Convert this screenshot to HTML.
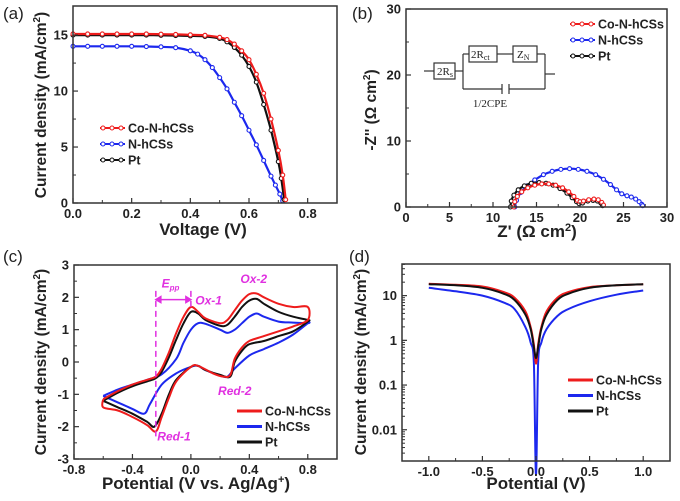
<!DOCTYPE html>
<html><head><meta charset="utf-8">
<style>
html,body{margin:0;padding:0;background:#fff;}
svg{display:block;font-family:"Liberation Sans",Arial,sans-serif;}
.tick{font-size:13px;font-weight:bold;fill:#222;}
.ttl{font-size:15.5px;font-weight:bold;fill:#222;}
.xt{font-size:17px;}
.pl{font-size:17px;fill:#222;}
.leg{font-size:12.5px;font-weight:bold;fill:#222;}
.mag{font-size:12px;font-weight:bold;font-style:italic;fill:#e030e0;}
</style></head>
<body>
<svg id="fig" width="680" height="501" viewBox="0 0 680 501" xmlns="http://www.w3.org/2000/svg">
<g id="gA"></g>
<g id="gB"></g>
<g id="gC"></g>
<g id="gD"></g>
</svg>
<script>
// ---------- Panel (a) data ----------
const aV_co=[0,0.05,0.1,0.15,0.2,0.25,0.3,0.35,0.4,0.45,0.5,0.525,0.55,0.575,0.6,0.625,0.65,0.675,0.7,0.715,0.725];
const aJ_co=[15.1,15.1,15.1,15.1,15.1,15.1,15.08,15.06,15.03,14.98,14.8,14.6,14.2,13.6,12.8,11.5,9.8,7.5,4.7,2.5,0.3];
const aV_pt=[0,0.05,0.1,0.15,0.2,0.25,0.3,0.35,0.4,0.45,0.5,0.525,0.55,0.575,0.6,0.625,0.65,0.675,0.7,0.71,0.72];
const aJ_pt=[15.0,15.0,15.0,15.0,15.0,15.0,14.98,14.96,14.93,14.88,14.7,14.4,13.9,13.2,12.2,10.8,8.8,6.5,3.7,2.2,0.3];
const aV_n=[0,0.05,0.1,0.15,0.2,0.25,0.3,0.35,0.4,0.425,0.45,0.475,0.5,0.525,0.55,0.575,0.6,0.625,0.65,0.675,0.69,0.705,0.715];
const aJ_n=[14.0,14.0,14.0,14.0,14.0,13.98,13.95,13.88,13.6,13.3,12.8,12.1,11.2,10.2,9.0,7.8,6.5,5.2,3.8,2.4,1.6,0.8,0.2];
const aXTicks=[0,0.2,0.4,0.6,0.8];
const aYTicks=[0,5,10,15];
// ---------- Panel (b) data ----------
const bX_co=[12.4,12.5,12.8,13.3,14,14.8,15.6,16.4,17.2,18,18.7,19.3,19.7,20,20.4,21,21.6,22.1,22.5,22.7];
const bY_co=[0,0.8,1.6,2.3,2.9,3.3,3.5,3.5,3.3,2.9,2.3,1.6,1.0,0.8,0.9,1.1,1.2,1.1,0.7,0.3];
const bX_pt=[12.0,12.1,12.4,12.9,13.6,14.4,15.3,16.1,16.9,17.7,18.5,19.1,19.6,19.9,20.3,20.9,21.5,22,22.4,22.6];
const bY_pt=[0,0.9,1.8,2.6,3.2,3.6,3.7,3.6,3.3,2.8,2.1,1.4,0.8,0.5,0.6,0.9,1.0,0.9,0.6,0.2];
const bX_n=[12.5,12.7,13.2,13.9,14.8,15.8,16.8,17.8,18.8,19.8,20.8,21.8,22.7,23.5,24.2,24.8,25.4,25.9,26.4,26.8,27.1,27.2];
const bY_n=[0,1.0,2.2,3.2,4.1,4.9,5.4,5.7,5.8,5.7,5.4,4.9,4.2,3.4,2.6,2.0,1.7,1.5,1.2,0.8,0.4,0.2];
const bXTicks=[0,5,10,15,20,25,30];
const bYTicks=[0,10,20,30];
// ---------- Panel (c) data ----------
const cE_co=[-0.6,-0.5,-0.4,-0.3,-0.24,-0.2,-0.15,-0.1,-0.05,0,0.05,0.1,0.2,0.25,0.3,0.35,0.4,0.45,0.5,0.6,0.7,0.8,0.8,0.7,0.6,0.5,0.4,0.35,0.3,0.27,0.22,0.15,0.05,0,-0.1,-0.15,-0.2,-0.24,-0.3,-0.4,-0.5,-0.6,-0.6];
const cI_co=[-1.15,-0.9,-0.7,-0.55,-0.45,-0.2,0.3,0.9,1.4,1.7,1.55,1.35,1.2,1.3,1.6,1.9,2.1,2.12,2.0,1.8,1.7,1.7,1.3,1.1,0.95,0.8,0.65,0.45,0.1,-0.4,-0.45,-0.35,-0.12,-0.15,-0.6,-1.1,-1.7,-2.15,-1.95,-1.7,-1.5,-1.4,-1.15];
const cE_pt=[-0.6,-0.5,-0.4,-0.3,-0.24,-0.2,-0.15,-0.1,-0.05,0,0.05,0.1,0.2,0.25,0.3,0.35,0.4,0.45,0.5,0.6,0.7,0.8,0.8,0.7,0.6,0.5,0.4,0.35,0.3,0.27,0.2,0.1,0.05,0,-0.1,-0.15,-0.2,-0.25,-0.3,-0.4,-0.5,-0.6];
const cI_pt=[-1.2,-0.95,-0.75,-0.6,-0.5,-0.3,0.15,0.7,1.2,1.55,1.5,1.3,1.12,1.15,1.4,1.7,1.9,1.95,1.8,1.55,1.4,1.3,1.25,0.95,0.8,0.65,0.55,0.35,0,-0.45,-0.4,-0.25,-0.12,-0.15,-0.55,-1.0,-1.6,-2.0,-1.85,-1.6,-1.4,-1.2];
const cE_n=[-0.6,-0.5,-0.4,-0.3,-0.2,-0.1,-0.05,0,0.05,0.1,0.2,0.25,0.3,0.35,0.4,0.45,0.5,0.6,0.7,0.8,0.8,0.7,0.6,0.5,0.4,0.3,0.25,0.2,0.1,0.05,0,-0.1,-0.2,-0.28,-0.32,-0.4,-0.5,-0.6];
const cI_n=[-1.05,-0.85,-0.7,-0.55,-0.38,0.1,0.6,1.0,1.2,1.18,1.0,0.9,1.0,1.2,1.4,1.5,1.4,1.25,1.22,1.2,1.2,0.85,0.6,0.4,0.2,-0.2,-0.45,-0.42,-0.25,-0.12,-0.15,-0.35,-0.7,-1.3,-1.6,-1.45,-1.25,-1.05];
const cXTicks=[-0.8,-0.4,0.0,0.4,0.8];
const cYTicks=[-3,-2,-1,0,1,2,3];
// ---------- Panel (d) data ----------
const dV=[-1,-0.75,-0.5,-0.3,-0.2,-0.1,-0.05,-0.02,0,0.02,0.05,0.1,0.2,0.3,0.5,0.75,1];
const dJ_co=[18.5,17.5,16,12,9,4.5,2,0.8,0.3,0.8,2,4.5,9,12,15.5,17,18];
const dJ_pt=[18,17,15,11,8,3.8,1.8,0.7,0.4,0.7,1.8,3.8,8,11,15,17,18];
const dJ_n=[15,12.5,10,7,5,2,0.9,0.3,0.001,0.3,0.9,1.8,3.5,5,7.5,10.5,13];
const dXTicks=[-1.0,-0.5,0.0,0.5,1.0];
const dYTicks=[0.01,0.1,1,10];

const NS="http://www.w3.org/2000/svg";
function mk(parent,tag,attrs,text){const e=document.createElementNS(NS,tag);for(const k in attrs)e.setAttribute(k,attrs[k]);if(text!==undefined)e.textContent=text;parent.appendChild(e);return e;}
function lin(d0,d1,r0,r1){return v=>r0+(v-d0)*(r1-r0)/(d1-d0);}
function logs(d0,d1,r0,r1){return v=>r0+(Math.log10(v)-Math.log10(d0))*(r1-r0)/(Math.log10(d1)-Math.log10(d0));}
function smooth(pts){let d="M"+pts[0][0].toFixed(1)+","+pts[0][1].toFixed(1);for(let i=0;i<pts.length-1;i++){const p0=pts[Math.max(0,i-1)],p1=pts[i],p2=pts[i+1],p3=pts[Math.min(pts.length-1,i+2)];const c1=[p1[0]+(p2[0]-p0[0])/6,p1[1]+(p2[1]-p0[1])/6],c2=[p2[0]-(p3[0]-p1[0])/6,p2[1]-(p3[1]-p1[1])/6];d+="C"+c1[0].toFixed(1)+","+c1[1].toFixed(1)+" "+c2[0].toFixed(1)+","+c2[1].toFixed(1)+" "+p2[0].toFixed(1)+","+p2[1].toFixed(1);}return d;}
function frame(g,F){const r=mk(g,'rect',{x:F.x0,y:F.y0,width:F.x1-F.x0,height:F.y1-F.y0,fill:'none',stroke:'#333','stroke-width':1.5});

}
function xticks(g,F,sx,ticks,minors,fmt){ticks.forEach(v=>{const x=sx(v);mk(g,'line',{x1:x,x2:x,y1:F.y1,y2:F.y1-5,stroke:'#333','stroke-width':1.2});const t=mk(g,'text',{x:x,y:F.y1+15,'text-anchor':'middle',class:'tick'},fmt(v));

});
minors.forEach(v=>{const x=sx(v);mk(g,'line',{x1:x,x2:x,y1:F.y1,y2:F.y1-3,stroke:'#333','stroke-width':1});});}
function yticks(g,F,sy,ticks,minors,fmt){ticks.forEach(v=>{const y=sy(v);mk(g,'line',{x1:F.x0,x2:F.x0+5,y1:y,y2:y,stroke:'#333','stroke-width':1.2});const t=mk(g,'text',{x:F.x0-5,y:y+4.5,'text-anchor':'end',class:'tick'},fmt(v));

});
minors.forEach(v=>{const y=sy(v);mk(g,'line',{x1:F.x0,x2:F.x0+3,y1:y,y2:y,stroke:'#333','stroke-width':1});});}
function title(g,x,y,rot,html,name){const t=mk(g,'text',{x:x,y:y,'text-anchor':'middle',class:rot?'ttl':'ttl xt',transform:rot?`rotate(-90 ${x} ${y})`:''});t.innerHTML=html;

return t;}
function plabel(g,x,y,s){const t=mk(g,'text',{x:x,y:y,class:'pl'},s);

}
function series(g,xs,ys,sx,sy,color,name,markers){const pts=xs.map((v,i)=>[sx(v),sy(ys[i])]);const p=mk(g,'path',{d:smooth(pts),fill:'none',stroke:color,'stroke-width':markers?2.2:2});


if(markers){pts.forEach(q=>{const c=mk(g,'circle',{cx:q[0],cy:q[1],r:2,fill:'#fff',stroke:color,'stroke-width':1.1});

});}}
function legend(g,x,y,dy,items,markers){items.forEach((it,i)=>{const yy=y+i*dy;const l=mk(g,'line',{x1:x,x2:x+25,y1:yy,y2:yy,stroke:it[1],'stroke-width':markers?2:3});


if(markers){[x+3,x+12,x+21].forEach(cx=>mk(g,'circle',{cx:cx,cy:yy,r:2,fill:'#fff',stroke:it[1],'stroke-width':1}));}
const t=mk(g,'text',{x:x+28,y:yy+4.5,class:'leg'},it[0]);

});}
const LEG=[["Co-N-hCSs","#ee1c1c"],["N-hCSs","#1c28ee"],["Pt","#111"]];

// ===== Panel A =====
(function(){const g=document.getElementById('gA');const F={x0:73,x1:337,y0:6,y1:203};
const sx=lin(0,0.9,F.x0,F.x1),sy=lin(0,17.6,F.y1,F.y0);
series(g,aV_n,aJ_n,sx,sy,'#1c28ee','n-hcss-jv',true);
series(g,aV_pt,aJ_pt,sx,sy,'#111','pt-jv',true);
series(g,aV_co,aJ_co,sx,sy,'#ee1c1c','co-n-hcss-jv',true);
frame(g,F);
xticks(g,F,sx,aXTicks,[0.1,0.3,0.5,0.7],v=>v.toFixed(1));
yticks(g,F,sy,aYTicks,[2.5,7.5,12.5],v=>String(v));
title(g,203,235,false,'Voltage (V)','x-axis-title');
title(g,46,105,true,'Current density (mA/cm<tspan dy="-6" font-size="10">2</tspan><tspan dy="6">)</tspan>','y-axis-title');
legend(g,100,128,16,LEG,true);
plabel(g,3,19,'(a)');})();

// ===== Panel B =====
(function(){const g=document.getElementById('gB');const F={x0:406,x1:667,y0:9,y1:207};
const sx=lin(0,30,F.x0,F.x1),sy=lin(0,30,F.y1,F.y0);
series(g,bX_n,bY_n,sx,sy,'#1c28ee','n-hcss-nyquist',true);
series(g,bX_pt,bY_pt,sx,sy,'#111','pt-nyquist',true);
series(g,bX_co,bY_co,sx,sy,'#ee1c1c','co-n-hcss-nyquist',true);
frame(g,F);
xticks(g,F,sx,bXTicks,[2.5,7.5,12.5,17.5,22.5,27.5],v=>String(v));
yticks(g,F,sy,bYTicks,[5,15,25],v=>String(v));
title(g,537,237,false,'Z\' (Ω cm<tspan dy="-6" font-size="11">2</tspan><tspan dy="6">)</tspan>','x-axis-title');
title(g,376,110,true,'-Z\'\' (Ω cm<tspan dy="-6" font-size="10">2</tspan><tspan dy="6">)</tspan>','y-axis-title');
legend(g,570,24,16,LEG,true);
plabel(g,352,19,'(b)');
const c=mk(g,'g',{stroke:'#333','stroke-width':1.2,fill:'none'});


mk(c,'line',{x1:424,x2:434,y1:71,y2:71});
mk(c,'rect',{x:434,y:63,width:21,height:16,fill:'#fff'});
mk(c,'line',{x1:455,x2:463,y1:71,y2:71});
mk(c,'line',{x1:463,x2:463,y1:54,y2:89});
mk(c,'line',{x1:463,x2:469,y1:54,y2:54});
mk(c,'rect',{x:469,y:46,width:28,height:16,fill:'#fff'});
mk(c,'line',{x1:497,x2:513,y1:54,y2:54});
mk(c,'rect',{x:513,y:46,width:24,height:16,fill:'#fff'});
mk(c,'line',{x1:537,x2:545,y1:54,y2:54});
mk(c,'line',{x1:545,x2:545,y1:54,y2:89});
mk(c,'line',{x1:545,x2:555,y1:74,y2:74});
mk(c,'line',{x1:463,x2:502,y1:89,y2:89});
mk(c,'line',{x1:509,x2:545,y1:89,y2:89});
mk(c,'line',{x1:502,x2:502,y1:84,y2:94});
mk(c,'line',{x1:509,x2:509,y1:84,y2:94});
const st='font-family:"Liberation Serif",serif;font-size:11px;fill:#222';
mk(g,'text',{x:437,y:75,style:st}).innerHTML='2R<tspan font-size="8" dy="2">s</tspan>';
mk(g,'text',{x:471,y:58,style:st}).innerHTML='2R<tspan font-size="8" dy="2">ct</tspan>';
mk(g,'text',{x:517,y:58,style:st}).innerHTML='Z<tspan font-size="8" dy="2">N</tspan>';
mk(g,'text',{x:490,y:107,style:st,'text-anchor':'middle'},'1/2CPE');})();

// ===== Panel C =====
(function(){const g=document.getElementById('gC');const F={x0:74,x1:337,y0:265,y1:459};
const sx=lin(-0.8,1.0,F.x0,F.x1),sy=lin(-3,3,F.y1,F.y0);
series(g,cE_n,cI_n,sx,sy,'#1c28ee','n-hcss-cv',false);
series(g,cE_pt,cI_pt,sx,sy,'#111','pt-cv',false);
series(g,cE_co,cI_co,sx,sy,'#ee1c1c','co-n-hcss-cv',false);
frame(g,F);
xticks(g,F,sx,cXTicks,[-0.6,-0.2,0.2,0.6,1.0],v=>v.toFixed(1));
yticks(g,F,sy,cYTicks,[-2.5,-1.5,-0.5,0.5,1.5,2.5],v=>String(v));
title(g,196,489,false,'Potential (V vs. Ag/Ag<tspan dy="-6" font-size="11">+</tspan><tspan dy="6">)</tspan>','x-axis-title');
title(g,46,362,true,'Current density (mA/cm<tspan dy="-6" font-size="10">2</tspan><tspan dy="6">)</tspan>','y-axis-title');
legend(g,237,411,15.5,LEG,false);
plabel(g,3,262,'(c)');
const M='#e030e0';
const a=mk(g,'g',{stroke:M,'stroke-width':1.5,fill:'none'});


mk(a,'line',{x1:sx(-0.24),x2:sx(-0.24),y1:sy(2.2),y2:sy(-2.3),'stroke-dasharray':'6,4'});
mk(a,'line',{x1:sx(0),x2:sx(0),y1:sy(2.2),y2:sy(1.6),'stroke-dasharray':'6,4'});
mk(a,'line',{x1:sx(-0.22),x2:sx(-0.02),y1:sy(1.93),y2:sy(1.93)});
mk(a,'path',{d:`M${sx(-0.24)},${sy(1.93)} l5,-3 l0,6 z`,fill:M});
mk(a,'path',{d:`M${sx(0)},${sy(1.93)} l-5,-3 l0,6 z`,fill:M});
mk(g,'text',{x:sx(-0.2),y:sy(2.3),class:'mag'}).innerHTML='E<tspan dy="3" font-size="8">pp</tspan>';
mk(g,'text',{x:sx(0.03),y:sy(1.9)+4,class:'mag'},'Ox-1');
mk(g,'text',{x:sx(0.43),y:sy(2.45),class:'mag','text-anchor':'middle'},'Ox-2');
mk(g,'text',{x:sx(0.3),y:sy(-0.9)+4,class:'mag','text-anchor':'middle'},'Red-2');
mk(g,'text',{x:sx(-0.23),y:sy(-2.3)+4,class:'mag'},'Red-1');})();

// ===== Panel D =====
(function(){const g=document.getElementById('gD');const F={x0:402,x1:670,y0:264,y1:461};
const sx=lin(-1.25,1.25,F.x0,F.x1),sy=logs(0.002,51,F.y1,F.y0);
series(g,dV,dJ_n,sx,sy,'#1c28ee','n-hcss-tafel',false);
series(g,dV,dJ_co,sx,sy,'#ee1c1c','co-n-hcss-tafel',false);
series(g,dV,dJ_pt,sx,sy,'#111','pt-tafel',false);
frame(g,F);
xticks(g,F,sx,dXTicks,[-0.75,-0.25,0.25,0.75],v=>v.toFixed(1));
const minors=[];[0.001,0.01,0.1,1,10].forEach(d=>{for(let k=2;k<10;k++){const v=d*k;if(v>0.002&&v<51)minors.push(v);}});
yticks(g,F,sy,dYTicks,minors,v=>String(v));
title(g,536,489,false,'Potential (V)','x-axis-title');
title(g,366,362,true,'Current density (mA/cm<tspan dy="-6" font-size="10">2</tspan><tspan dy="6">)</tspan>','y-axis-title');
legend(g,568,380,15.5,LEG,false);
plabel(g,349,262,'(d)');})();
</script>
</body></html>
